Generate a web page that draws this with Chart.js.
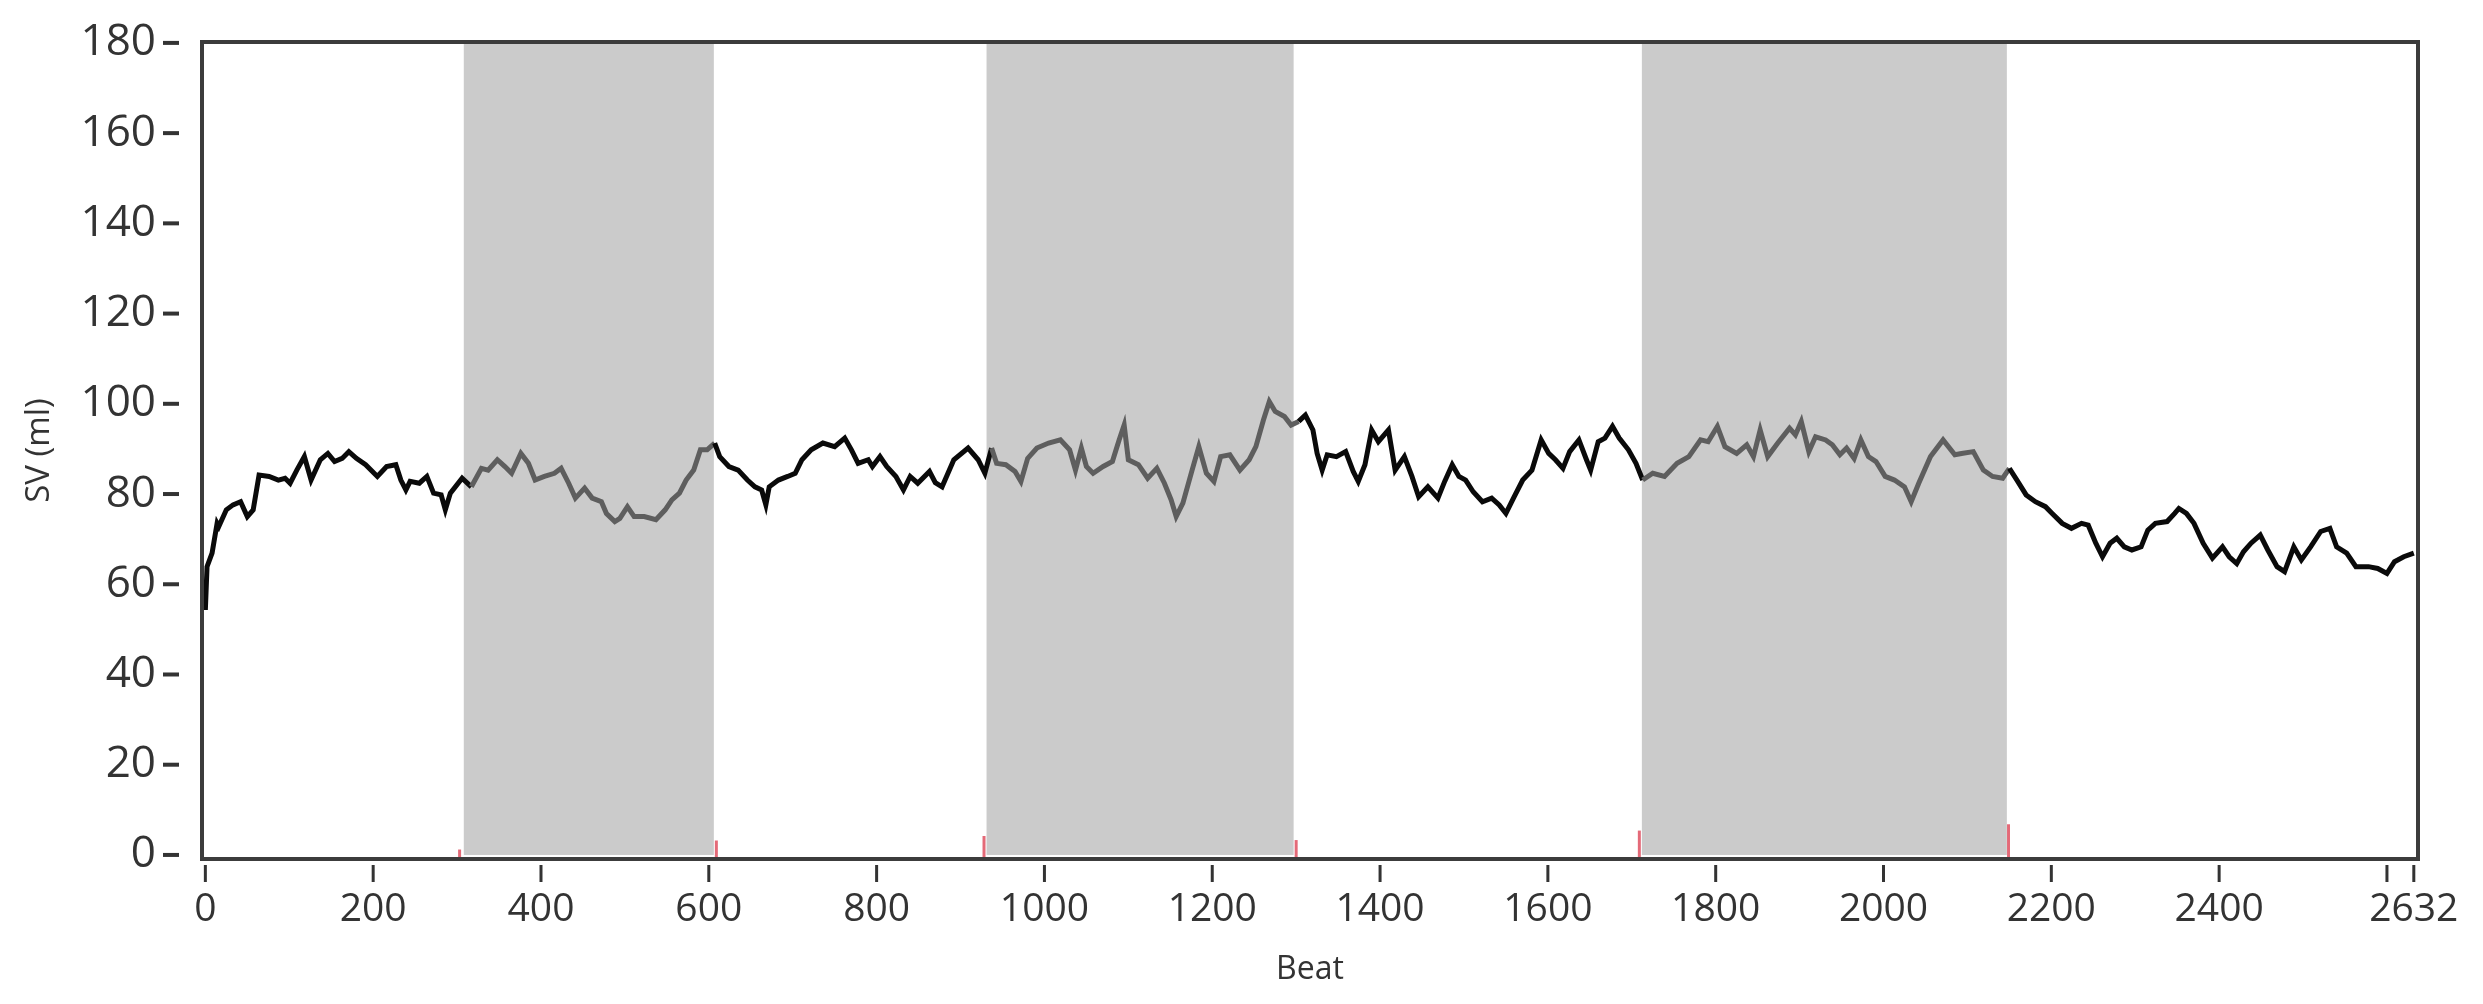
<!DOCTYPE html>
<html>
<head>
<meta charset="utf-8">
<script src="https://cdn.jsdelivr.net/npm/chart.js@4/dist/chart.umd.min.js"></script>
<style>
    html, body { margin: 0; padding: 0; background: #fff; }
    #wrap { width: 2483px; height: 1004px; position: relative; }
</style>
</head>
<body>
<div id="wrap"><canvas id="svChart"></canvas></div>
<script>
const beats = [
    0, 2, 8, 14, 16, 25, 33, 42, 50, 57, 64, 76, 87, 95, 101, 109, 118, 126, 137, 146,
    154, 163, 171, 180, 191, 205, 216, 227, 233, 239, 244, 255, 264, 272, 281, 286, 292, 306, 317, 329,
    337, 348, 357, 365, 376, 385, 393, 404, 416, 424, 433, 441, 452, 461, 472, 478, 488, 494, 503, 511,
    523, 537, 548, 556, 565, 573, 582, 590, 598, 607, 613, 624, 635, 646, 655, 663, 668, 672, 683, 694,
    703, 711, 722, 736, 750, 762, 770, 778, 790, 795, 804, 812, 823, 832, 840, 849, 863, 870, 878, 892,
    909, 921, 929, 937, 943, 954, 965, 972, 980, 991, 1005, 1019, 1030, 1037, 1044, 1050, 1058, 1070, 1081, 1089,
    1095, 1100, 1112, 1123, 1134, 1143, 1151, 1157, 1165, 1176, 1184, 1193, 1202, 1210, 1221, 1233, 1244, 1252, 1261, 1268,
    1275, 1286, 1294, 1303, 1311, 1320, 1325, 1331, 1337, 1348, 1359, 1368, 1374, 1382, 1390, 1398, 1410, 1418, 1429, 1438,
    1446, 1457, 1469, 1477, 1486, 1494, 1502, 1511, 1522, 1533, 1542, 1550, 1559, 1570, 1581, 1592, 1601, 1609, 1618, 1626,
    1637, 1646, 1651, 1660, 1668, 1677, 1685, 1696, 1705, 1713, 1725, 1739, 1754, 1768, 1782, 1791, 1802, 1811, 1825, 1837,
    1845, 1853, 1862, 1874, 1888, 1895, 1902, 1911, 1919, 1931, 1939, 1948, 1956, 1965, 1973, 1982, 1991, 2002, 2013, 2025,
    2033, 2042, 2056, 2071, 2085, 2093, 2107, 2119, 2130, 2142, 2150, 2159, 2170, 2181, 2193, 2201, 2213, 2224, 2236, 2244,
    2253, 2261, 2270, 2278, 2287, 2296, 2307, 2315, 2324, 2338, 2347, 2352, 2361, 2370, 2381, 2392, 2404, 2412, 2421, 2429,
    2438, 2449, 2458, 2469, 2478, 2489, 2498, 2509, 2521, 2532, 2540, 2552, 2563, 2578, 2589, 2600, 2609, 2620, 2632,
];

const sv = [
    54.3, 63.9, 66.9, 73.5, 72.8, 76.5, 77.6, 78.3, 75.0, 76.5, 84.2, 83.9, 83.1, 83.5, 82.4, 85.3, 88.3, 83.1, 87.6, 89.0,
    87.2, 87.9, 89.4, 87.9, 86.5, 83.9, 86.1, 86.5, 83.1, 80.9, 82.8, 82.4, 83.9, 80.2, 79.8, 76.5, 80.2, 83.5, 81.6, 85.7,
    85.3, 87.6, 86.1, 84.6, 89.0, 86.8, 83.1, 83.9, 84.6, 85.7, 82.4, 79.1, 81.3, 79.1, 78.3, 75.7, 73.9, 74.6, 77.2, 75.0,
    75.0, 74.3, 76.5, 78.7, 80.2, 83.1, 85.3, 89.8, 89.8, 91.3, 88.3, 86.1, 85.3, 83.1, 81.6, 80.9, 77.6, 81.6, 83.1, 83.9,
    84.6, 87.6, 89.8, 91.3, 90.5, 92.4, 89.8, 86.8, 87.6, 86.1, 88.3, 86.1, 83.9, 80.9, 83.9, 82.4, 85.0, 82.5, 81.6, 87.6,
    90.2, 87.6, 84.6, 90.2, 86.8, 86.5, 85.0, 82.8, 87.9, 90.2, 91.3, 92.0, 89.8, 85.3, 90.2, 86.1, 84.6, 86.1, 87.2, 92.0,
    95.3, 87.6, 86.5, 83.5, 85.7, 82.4, 78.7, 75.0, 78.0, 85.3, 90.5, 84.6, 82.8, 88.3, 88.7, 85.3, 87.6, 90.5, 96.4, 100.5,
    98.3, 97.2, 95.3, 96.1, 97.5, 94.2, 89.0, 85.3, 88.7, 88.3, 89.4, 85.0, 82.8, 86.5, 94.2, 91.6, 94.2, 85.3, 88.3, 83.9,
    79.4, 81.6, 79.1, 82.8, 86.5, 83.9, 83.1, 80.5, 78.3, 79.1, 77.6, 75.7, 79.1, 83.1, 85.3, 92.0, 89.0, 87.6, 85.7, 89.4,
    92.0, 87.6, 85.3, 91.6, 92.4, 95.0, 92.4, 89.8, 86.8, 83.1, 84.6, 83.9, 86.8, 88.3, 92.0, 91.6, 95.0, 90.5, 89.0, 90.9,
    88.3, 94.2, 88.3, 91.3, 94.6, 93.1, 96.1, 89.4, 92.7, 92.0, 90.9, 88.7, 90.2, 87.9, 92.0, 88.3, 87.2, 83.9, 83.1, 81.6,
    78.3, 82.4, 88.3, 92.0, 88.7, 89.0, 89.4, 85.3, 83.9, 83.5, 85.7, 83.1, 79.8, 78.3, 77.2, 75.7, 73.5, 72.4, 73.5, 73.1,
    69.1, 66.1, 69.1, 70.2, 68.3, 67.6, 68.3, 72.0, 73.5, 73.9, 75.7, 76.8, 75.7, 73.5, 69.1, 65.8, 68.3, 66.1, 64.6, 67.2,
    69.1, 70.9, 67.6, 63.9, 62.8, 68.3, 65.4, 68.3, 71.7, 72.4, 68.3, 66.9, 63.9, 63.9, 63.5, 62.4, 65.0, 66.1, 66.9,
];

// shaded protocol phases (beat ranges)
const bandStarts = [308, 931, 1712];
const bandEnds = [606, 1297, 2147];

// red event markers on the beat axis
const markerBeats = [303, 609, 928, 1300, 1709, 2149];
const markerHeights = [1.2, 3.2, 4.2, 3.3, 5.4, 6.8];

const xTickValues = [0, 200, 400, 600, 800, 1000, 1200, 1400, 1600, 1800, 2000, 2200, 2400, 2600, 2632];
const xTickLabels = ['0', '200', '400', '600', '800', '1000', '1200', '1400', '1600', '1800', '2000', '2200', '2400', '', '2632'];
const yTickValues = [0, 20, 40, 60, 80, 100, 120, 140, 160, 180];

const textColor = '#333333';
const frameColor = '#3c3c3c';

function inBand(x) {
    for (let i = 0; i < bandStarts.length; i++) {
        if (x >= bandStarts[i] && x < bandEnds[i]) {
            return true;
        }
    }
    return false;
}

const decorPlugin = {
    id: 'decor',
    beforeDatasetsDraw(chart) {
        const { ctx, chartArea, scales } = chart;
        const y0 = scales.y.getPixelForValue(0);
        ctx.save();
        ctx.fillStyle = '#cbcbcb';
        bandStarts.forEach((start, i) => {
            const x1 = scales.x.getPixelForValue(start);
            const x2 = scales.x.getPixelForValue(bandEnds[i]);
            ctx.fillRect(x1, chartArea.top, x2 - x1, y0 - chartArea.top);
        });
        ctx.restore();
    },
    afterDraw(chart) {
        const { ctx, chartArea, scales } = chart;
        ctx.save();

        // event markers
        ctx.strokeStyle = '#e46a78';
        ctx.lineWidth = 3;
        markerBeats.forEach((b, i) => {
            const x = scales.x.getPixelForValue(b);
            ctx.beginPath();
            ctx.moveTo(x, chartArea.bottom);
            ctx.lineTo(x, scales.y.getPixelForValue(markerHeights[i]));
            ctx.stroke();
        });

        // frame
        ctx.strokeStyle = frameColor;
        ctx.lineWidth = 4;
        ctx.strokeRect(chartArea.left, chartArea.top, chartArea.right - chartArea.left, chartArea.bottom - chartArea.top);

        // detached tick marks
        ctx.strokeStyle = textColor;
        ctx.lineWidth = 4;
        yTickValues.forEach((v) => {
            const y = scales.y.getPixelForValue(v);
            ctx.beginPath();
            ctx.moveTo(chartArea.left - 39, y);
            ctx.lineTo(chartArea.left - 23, y);
            ctx.stroke();
        });
        ctx.lineWidth = 3;
        xTickValues.forEach((v) => {
            const x = scales.x.getPixelForValue(v);
            ctx.beginPath();
            ctx.moveTo(x, chartArea.bottom + 6);
            ctx.lineTo(x, chartArea.bottom + 23);
            ctx.stroke();
        });
        ctx.restore();
    },
};

const canvas = document.getElementById('svChart');

new Chart(canvas, {
    type: 'line',
    data: {
        datasets: [
            {
                label: 'SV',
                data: beats.map((b, i) => ({ x: b, y: sv[i] })),
                borderColor: '#0a0a0a',
                borderWidth: 5,
                pointRadius: 0,
                tension: 0,
                segment: {
                    borderColor: (ctx) => (inBand(ctx.p0.parsed.x) ? '#5e5e5e' : '#0a0a0a'),
                },
            },
        ],
    },
    options: {
        responsive: true,
        maintainAspectRatio: false,
        animation: false,
        layout: {
            padding: { top: 42, right: 65, left: 0, bottom: 0 },
        },
        plugins: {
            legend: { display: false },
            tooltip: { enabled: false },
        },
        scales: {
            x: {
                type: 'linear',
                min: -4,
                max: 2637,
                afterBuildTicks: (scale) => {
                    scale.ticks = xTickValues.map((v) => ({ value: v }));
                },
                afterFit: (scale) => {
                    scale.height = 145;
                    scale.paddingLeft = 0;
                    scale.paddingRight = 0;
                },
                grid: { display: false, drawTicks: false },
                border: { display: false },
                ticks: {
                    autoSkip: false,
                    maxRotation: 0,
                    padding: 27,
                    color: textColor,
                    font: { family: 'Open Sans', size: 39 },
                    callback: (value) => {
                        const i = xTickValues.indexOf(value);
                        return i >= 0 ? xTickLabels[i] : '';
                    },
                },
                title: {
                    display: true,
                    text: 'Beat',
                    color: textColor,
                    font: { family: 'Open Sans', size: 32 },
                    padding: { top: 0, bottom: 15 },
                },
            },
            y: {
                min: -0.9,
                max: 180.2,
                afterBuildTicks: (scale) => {
                    scale.ticks = yTickValues.map((v) => ({ value: v }));
                },
                afterFit: (scale) => {
                    scale.width = 202;
                    scale.paddingTop = 0;
                    scale.paddingBottom = 0;
                },
                grid: { display: false, drawTicks: false },
                border: { display: false },
                ticks: {
                    padding: 46,
                    color: textColor,
                    font: { family: 'Open Sans', size: 44 },
                },
                title: {
                    display: true,
                    text: 'SV (ml)',
                    color: textColor,
                    font: { family: 'Open Sans', size: 33 },
                    padding: { top: 20, bottom: 0 },
                },
            },
        },
    },
    plugins: [decorPlugin],
});
</script>
</body>
</html>
